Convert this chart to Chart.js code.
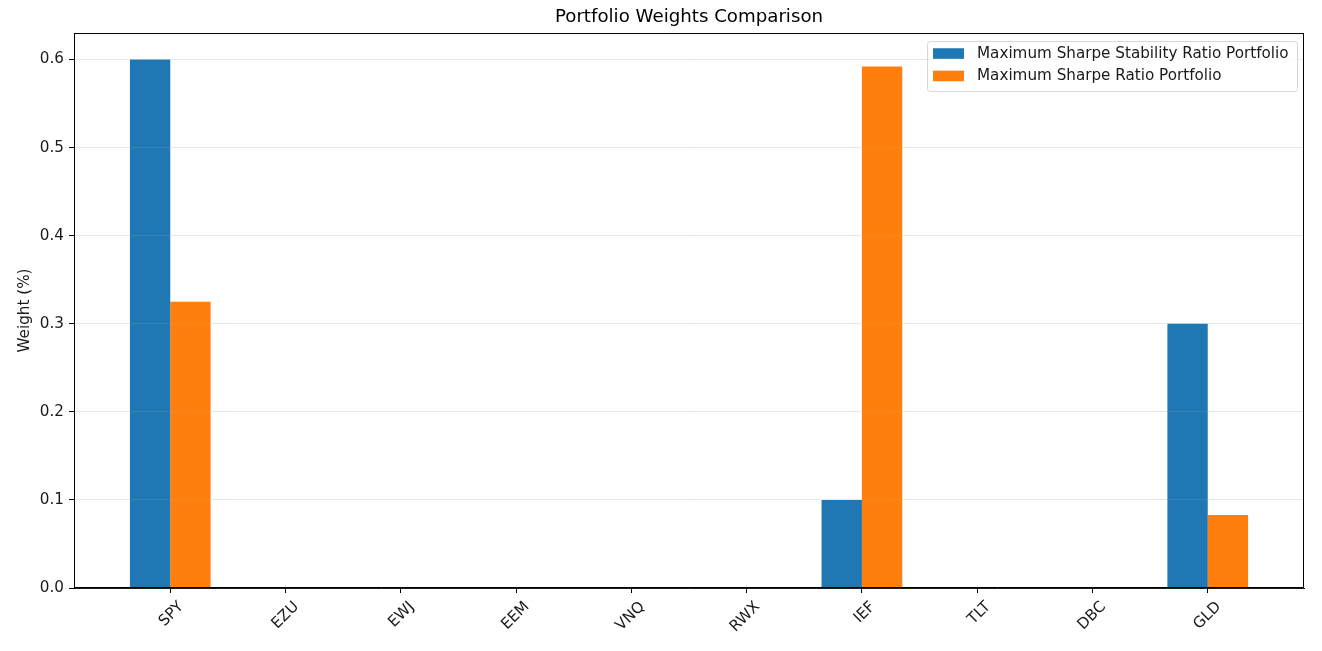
<!DOCTYPE html>
<html>
<head>
<meta charset="utf-8">
<script src="https://cdn.jsdelivr.net/npm/chart.js@4/dist/chart.umd.min.js"></script>
<style>
  body { margin: 0; background: #fff; }
  #wrap { width: 1322px; height: 651px; }
</style>
</head>
<body>
<div id="wrap"><canvas id="weights"></canvas></div>
<script>
const tickers = ['SPY', 'EZU', 'EWJ', 'EEM', 'VNQ', 'RWX', 'IEF', 'TLT', 'DBC', 'GLD'];
const stabilityWeights = [0.6, 0, 0, 0, 0, 0, 0.1, 0, 0, 0.3];
const sharpeWeights = [0.325, 0, 0, 0, 0, 0, 0.592, 0, 0, 0.083];
const yTicks = [0, 0.1, 0.2, 0.3, 0.4, 0.5, 0.6];
const seriesNames = ['Maximum Sharpe Stability Ratio Portfolio', 'Maximum Sharpe Ratio Portfolio'];

const FONT = 'DejaVu Sans';
const TEXT = '#1a1a1a';
const toPoints = (vals) => vals.map((v, i) => ({ x: i, y: v }));

// matplotlib draws the grid over the bars, and a box round the axes
const frameAndGrid = {
  id: 'frameAndGrid',
  afterDatasetsDraw(chart) {
    const { ctx, chartArea } = chart;
    chart.scales.y.drawGrid(chartArea);
    ctx.save();
    ctx.strokeStyle = '#000';
    ctx.lineWidth = 1;
    ctx.strokeRect(chartArea.left + 0.5, chartArea.top + 0.5, chartArea.width - 1, chartArea.height - 1);
    ctx.restore();
  }
};

// legend box inside the axes, top right, one entry per row
const innerLegend = {
  id: 'innerLegend',
  afterDraw(chart) {
    const { ctx, chartArea } = chart;
    const w = 370, h = 50;
    const x = chartArea.right - 7 - w;
    const y = chartArea.top + 8;
    ctx.save();
    ctx.beginPath();
    ctx.roundRect(x + 0.5, y + 0.5, w, h, 3);
    ctx.fillStyle = 'rgba(255,255,255,0.8)';
    ctx.fill();
    ctx.strokeStyle = '#d6d6d6';
    ctx.lineWidth = 1;
    ctx.stroke();
    ctx.font = `15.2px "${FONT}"`;
    ctx.textBaseline = 'middle';
    chart.data.datasets.forEach((ds, i) => {
      const cy = y + 12.5 + i * 22.4;
      ctx.fillStyle = ds.backgroundColor;
      ctx.fillRect(x + 6, cy - 5.3, 31, 10.6);
      ctx.fillStyle = TEXT;
      ctx.fillText(ds.label, x + 50, cy + 0.5);
    });
    ctx.restore();
  }
};

new Chart(document.getElementById('weights'), {
  type: 'bar',
  data: {
    datasets: [
      {
        label: seriesNames[0],
        data: toPoints(stabilityWeights),
        backgroundColor: '#1f77b4'
      },
      {
        label: seriesNames[1],
        data: toPoints(sharpeWeights),
        backgroundColor: '#ff7f0e'
      }
    ]
  },
  options: {
    responsive: true,
    maintainAspectRatio: false,
    animation: false,
    categoryPercentage: 0.7,
    barPercentage: 1,
    borderWidth: 0,
    layout: { padding: { left: 0, right: 18, top: 0, bottom: 0 } },
    plugins: {
      legend: { display: false },
      tooltip: { enabled: false },
      title: {
        display: true,
        text: 'Portfolio Weights Comparison',
        fullSize: false,
        color: '#000',
        font: { family: FONT, size: 18.2, weight: 'normal' },
        padding: { top: 6, bottom: 5.2 }
      }
    },
    scales: {
      x: {
        type: 'linear',
        offset: false,
        min: -0.835,
        max: 9.835,
        afterBuildTicks: (scale) => {
          scale.ticks = tickers.map((_, i) => ({ value: i }));
        },
        afterFit: (scale) => {
          scale.height = 63;
        },
        ticks: {
          autoSkip: false,
          minRotation: 45,
          maxRotation: 45,
          labelOffset: 11,
          padding: 5,
          color: TEXT,
          font: { family: FONT, size: 15.2 },
          callback: (v) => tickers[v]
        },
        grid: { offset: false, drawOnChartArea: false, drawTicks: true, tickLength: 5, tickColor: '#000' },
        border: { color: '#000', width: 1 }
      },
      y: {
        min: 0,
        max: 0.63,
        afterBuildTicks: (scale) => {
          scale.ticks = yTicks.map((v) => ({ value: v }));
        },
        afterFit: (scale) => {
          scale.width = 74;
        },
        ticks: {
          padding: 5,
          color: TEXT,
          font: { family: FONT, size: 15.2 },
          callback: (v) => v.toFixed(1)
        },
        // drawn twice (under and over the bars), so the alpha is halved
        grid: { color: 'rgba(176,176,176,0.165)', lineWidth: 1, tickLength: 5, tickColor: '#000' },
        border: { color: '#000', width: 1 },
        title: {
          display: true,
          text: 'Weight (%)',
          color: TEXT,
          font: { family: FONT, size: 15.2 },
          padding: { top: 16, bottom: 0 }
        }
      }
    }
  },
  plugins: [frameAndGrid, innerLegend]
});
</script>
</body>
</html>
